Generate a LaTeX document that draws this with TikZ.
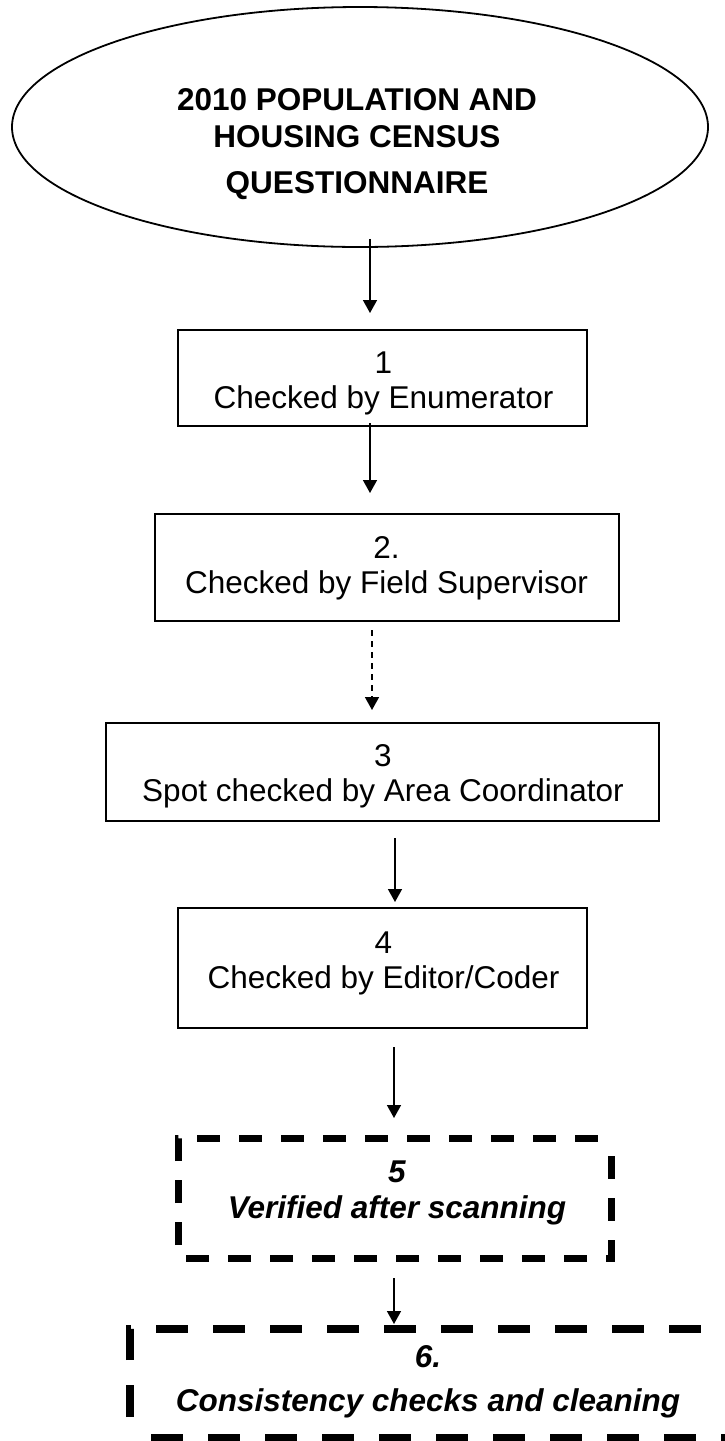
\documentclass[tikz,border=0pt]{standalone}
\usepackage{fontspec}
\setmainfont{Liberation Sans}
\usetikzlibrary{shapes.geometric,arrows.meta}
\begin{document}
\begin{tikzpicture}[x=1pt,y=-1pt,
  boxstyle/.style={draw,line width=1.8pt,rectangle,inner sep=0pt,outer sep=0pt},
  txt/.style={align=center,inner sep=0pt,font=\fontsize{31.5}{35}\selectfont},
  arr/.style={line width=1.5pt,-{Triangle[length=13pt,width=14pt]}},
  dasharr/.style={arr,dash pattern=on 6pt off 5pt},
  thickdashA/.style={line width=7pt,dash pattern=on 23pt off 19pt},
  thickdashB/.style={line width=8pt,dash pattern=on 32pt off 25pt,dash phase=36pt}]
\clip (0,0) rectangle (725,1441);
\fill[white] (0,0) rectangle (725,1441);
% ellipse
\node[draw,ellipse,line width=1.8pt,minimum width=696pt,minimum height=240pt,inner sep=0pt] (ell) at (360,127) {};
\node[txt,font=\bfseries\fontsize{31.5}{37}\selectfont] (ellt) at (357,144.5) {2010 POPULATION AND\\HOUSING CENSUS\\[9pt]QUESTIONNAIRE};
% boxes
\node[boxstyle,minimum width=409pt,minimum height=96pt] (b1) at (382.5,378) {};
\node[txt] (t1) at (383.5,383) {1\\Checked by Enumerator};
\node[boxstyle,minimum width=464pt,minimum height=107pt] (b2) at (387,567.5) {};
\node[txt] (t2) at (386.5,568) {2.\\Checked by Field Supervisor};
\node[boxstyle,minimum width=553pt,minimum height=98pt] (b3) at (382.5,772) {};
\node[txt] (t3) at (383,776) {3\\Spot checked by Area Coordinator};
\node[boxstyle,minimum width=409pt,minimum height=120pt] (b4) at (382.5,968) {};
\node[txt] (t4) at (383.5,963) {4\\Checked by Editor/Coder};
% dashed boxes
\node[rectangle,inner sep=0pt,outer sep=0pt,minimum width=433pt,minimum height=120pt] (b5) at (394.5,1198) {};
\draw[thickdashA,dash phase=29pt] (b5.south west) -- (b5.north west) -- (b5.north east);
\draw[thickdashA,dash phase=24pt] (b5.north east) -- (b5.south east) -- (b5.south west);
\node[txt,font=\bfseries\itshape\fontsize{31.5}{36}\selectfont] (t5) at (397,1193) {5\\Verified after scanning};
\node[rectangle,inner sep=0pt,outer sep=0pt,minimum width=612pt,minimum height=109pt] (b6) at (436,1383.5) {};
\draw[thickdashB] (b6.south west) -- (b6.north west) -- (b6.north east) -- (b6.south east) -- cycle;
\node[txt,font=\bfseries\itshape\fontsize{31.5}{44}\selectfont] (t6) at (428,1382) {6.\\Consistency checks and cleaning};
% connectors
\draw[arr] ([xshift=10pt,yshift=9pt]ell.south) -- ([xshift=-12.5pt,yshift=17pt]b1.north);
\draw[arr] ([xshift=-12.5pt,yshift=3pt]b1.south) -- ([xshift=-17pt,yshift=21pt]b2.north);
\draw[dasharr] ([xshift=-15pt,yshift=-9pt]b2.south) -- ([xshift=-10.5pt,yshift=13pt]b3.north);
\draw[arr] ([xshift=12.5pt,yshift=-17pt]b3.south) -- ([xshift=12.5pt,yshift=6pt]b4.north);
\draw[arr] ([xshift=11.5pt,yshift=-19pt]b4.south) -- ([xshift=-0.5pt,yshift=20pt]b5.north);
\draw[arr] ([xshift=-0.5pt,yshift=-20pt]b5.south) -- ([xshift=-42pt,yshift=5pt]b6.north);
\end{tikzpicture}
\end{document}
